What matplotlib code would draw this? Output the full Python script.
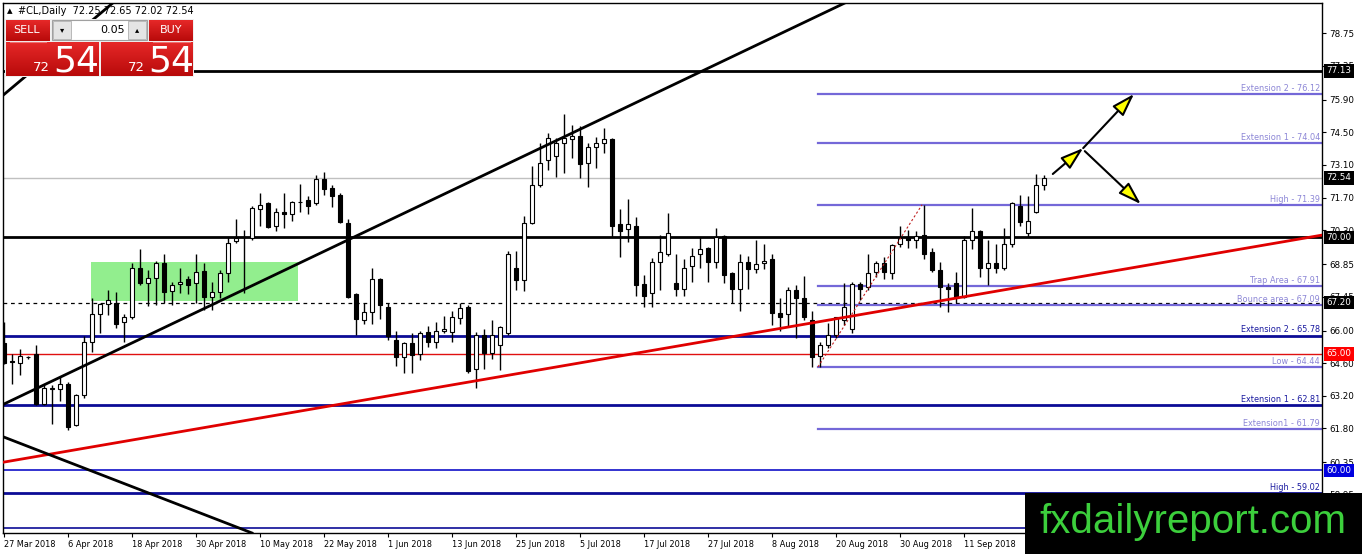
import matplotlib
matplotlib.use("Agg")
import matplotlib.pyplot as plt
import numpy as np
from matplotlib.patches import Rectangle, FancyArrowPatch
from matplotlib.transforms import blended_transform_factory
from matplotlib.colors import LinearSegmentedColormap

# daily bars, #CL (oil), 27 Mar - 25 Sep 2018
opens = [65.45, 64.7, 64.6, 64.85, 65.0, 62.85, 63.5, 63.5, 63.7, 61.95,
         63.25, 65.5, 66.7, 67.15, 67.2, 66.35, 66.6, 68.7, 68.05, 68.25,
         68.9, 67.7, 68.0, 68.2, 68.05, 68.55, 67.45, 67.65, 68.45, 69.83,
         70.0, 69.95, 71.2, 71.45, 70.5, 71.1, 71.0, 71.5, 71.6, 71.45,
         72.5, 72.1, 71.8, 70.6, 67.55, 66.45, 66.8, 68.2, 67.0, 65.6,
         64.85, 65.45, 65.0, 65.95, 65.5, 66.0, 65.95, 66.55, 67.0, 64.35,
         65.8, 65.05, 65.4, 65.9, 68.7, 68.15, 70.6, 72.25, 73.3, 73.5,
         74.05, 74.2, 74.35, 73.2, 73.85, 74.05, 74.2, 70.55, 70.35, 70.5,
         68.0, 67.6, 68.95, 69.3, 68.05, 67.8, 68.75, 69.3, 69.55, 68.95,
         70.05, 68.45, 67.8, 68.95, 68.65, 68.9, 69.05, 66.75, 66.7, 67.75,
         67.4, 66.45, 64.9, 65.4, 65.8, 66.45, 66.05, 68.0, 67.85, 68.5,
         68.9, 68.45, 69.7, 70.0, 69.9, 70.1, 69.35, 68.6, 67.85, 68.05,
         67.45, 69.9, 70.25, 68.7, 68.9, 68.7, 69.7, 71.35, 70.2, 71.1,
         72.25]
highs = [66.35, 65.0, 65.2, 64.9, 65.4, 63.7, 63.65, 64.0, 63.8, 63.3,
         65.75, 67.4, 67.2, 67.75, 67.65, 66.7, 68.9, 69.5, 68.6, 69.0,
         69.3, 68.1, 68.7, 68.35, 69.3, 68.9, 68.1, 68.6, 70.0, 70.8,
         70.3, 71.35, 71.9, 71.5, 71.25, 71.9, 71.55, 72.3, 71.75, 72.65,
         72.8, 72.25, 71.9, 70.8, 67.6, 67.2, 68.7, 68.25, 67.2, 66.0,
         65.5, 65.9, 66.0, 66.2, 66.35, 66.62, 66.85, 67.2, 67.1, 65.95,
         66.05, 66.45, 66.2, 69.4, 69.4, 70.9, 73.05, 74.05, 74.45, 74.25,
         75.3, 74.8, 74.75, 74.05, 74.3, 74.7, 74.25, 71.2, 71.65, 70.85,
         68.4, 69.1, 70.1, 71.05, 69.3, 69.05, 69.55, 70.0, 69.6, 70.4,
         70.1, 68.5, 69.3, 69.2, 69.9, 69.7, 69.3, 67.4, 67.85, 67.95,
         68.35, 66.85, 65.5, 66.32, 66.6, 68.03, 68.07, 68.07, 69.3, 69.0,
         69.15, 69.7, 70.5, 70.3, 70.25, 71.39, 69.55, 68.95, 68.05, 68.5,
         70.05, 71.25, 70.3, 69.9, 69.7, 70.4, 71.5, 71.8, 71.75, 72.7,
         72.65]
lows = [64.55, 63.7, 64.1, 64.8, 62.8, 62.8, 62.0, 63.0, 61.75, 61.9,
        63.1, 65.1, 65.9, 66.65, 66.1, 65.5, 66.5, 67.95, 67.05, 67.1,
        67.2, 67.1, 67.6, 67.55, 67.2, 66.9, 66.9, 67.4, 68.1, 69.75,
        67.6, 69.9, 70.5, 70.4, 70.25, 70.4, 70.7, 71.1, 71.0, 71.4,
        71.8, 71.3, 70.6, 67.4, 65.8, 66.3, 66.3, 66.5, 65.6, 64.5,
        64.2, 64.2, 64.75, 65.3, 65.25, 65.9, 65.5, 66.3, 64.2, 63.55,
        64.35, 64.8, 64.3, 65.8, 67.75, 67.7, 70.55, 72.15, 72.9, 72.6,
        72.75, 73.4, 72.55, 72.15, 72.95, 73.6, 70.0, 69.15, 69.8, 67.5,
        67.0, 67.0, 67.75, 69.2, 67.5, 67.5, 68.1, 68.7, 68.1, 68.7,
        68.05, 67.2, 66.85, 67.8, 68.45, 68.65, 66.25, 66.0, 66.15, 65.7,
        66.45, 64.45, 64.44, 65.25, 65.7, 66.25, 65.9, 67.3, 67.75, 68.3,
        68.2, 68.2, 69.6, 69.55, 69.55, 69.05, 68.5, 67.0, 66.8, 67.2,
        67.4, 69.5, 68.3, 67.95, 68.45, 68.6, 69.6, 70.5, 70.0, 71.05,
        72.02]
closes = [64.6, 64.65, 64.9, 64.88, 62.85, 63.55, 63.55, 63.7, 61.85, 63.25,
          65.5, 66.7, 67.15, 67.3, 66.3, 66.6, 68.7, 68.05, 68.25, 68.9,
          67.65, 67.95, 68.1, 67.95, 68.5, 67.45, 67.65, 68.45, 69.75, 69.96,
          70.02, 71.25, 71.38, 70.45, 71.1, 71.0, 71.5, 71.52, 71.35, 72.5,
          72.05, 71.75, 70.65, 67.45, 66.5, 66.8, 68.2, 67.1, 65.75, 64.85,
          65.45, 64.95, 65.9, 65.5, 66.0, 66.05, 66.6, 66.95, 64.25, 65.8,
          65.05, 65.8, 66.15, 69.3, 68.15, 70.6, 72.25, 73.2, 74.25, 74.05,
          74.25, 74.35, 73.15, 73.85, 74.05, 74.2, 70.5, 70.25, 70.55, 67.95,
          67.5, 68.95, 69.35, 70.2, 67.8, 68.7, 69.2, 69.5, 68.95, 70.0,
          68.4, 67.8, 68.95, 68.65, 68.85, 69.0, 66.75, 66.6, 67.75, 67.4,
          66.6, 64.85, 65.4, 65.8, 66.6, 67.0, 68.0, 67.8, 68.45, 68.9,
          68.5, 69.65, 69.95, 69.9, 70.05, 69.3, 68.6, 67.85, 67.8, 67.45,
          69.9, 70.25, 68.7, 68.9, 68.7, 69.7, 71.45, 70.65, 70.7, 72.25,
          72.54]

date_labels = ["27 Mar 2018", "6 Apr 2018", "18 Apr 2018", "30 Apr 2018",
               "10 May 2018", "22 May 2018", "1 Jun 2018", "13 Jun 2018",
               "25 Jun 2018", "5 Jul 2018", "17 Jul 2018", "27 Jul 2018",
               "8 Aug 2018", "20 Aug 2018", "30 Aug 2018", "11 Sep 2018"]
price_ticks = [78.75, 77.35, 75.90, 74.50, 73.10, 71.70, 70.30, 68.85,
               67.45, 66.00, 64.60, 63.20, 61.80, 60.35, 58.95]

# levels drawn on the chart
fib_levels = [76.12, 74.04, 71.39, 67.91, 67.09, 64.44, 61.79]
fib_names = ["Extension 2 - 76.12", "Extension 1 - 74.04", "High - 71.39",
             "Trap Area - 67.91", "Bounce area - 67.09", "Low - 64.44",
             "Extension1 - 61.79"]
navy_levels = [65.78, 62.81, 59.02, 57.53]
navy_names = ["Extension 2 - 65.78", "Extension 1 - 62.81", "High - 59.02", ""]
black_levels = [77.13, 70.00]
bid = 72.54
dashed_level = 67.20
red_level = 65.00
blue_level = 60.00

# trend lines (bar index, price)
red_trend = ([0, 164.75], [60.36, 70.09])
black_up = ([0, 105.1], [62.85, 80.04])
black_steep = ([-0.1, 13.6], [76.09, 80.04])
black_down = ([0, 31.0], [61.43, 57.32])
fib_swing = ([101.75, 114.75], [64.44, 71.39])
zone_bars = (10.9, 36.75)
zone_prices = (67.26, 68.93)
arrow_up = [(131.1, 72.71), (134.9, 73.82), (141.25, 76.14)]
arrow_down = [(135.1, 73.69), (142.1, 71.42)]

W, H = 1362, 554
fig = plt.figure(figsize=(W / 100, H / 100), dpi=100)
ax = fig.add_axes([3 / W, (H - 533) / H, 1319 / W, 530 / H])
ax.set_xlim(-0.125, 164.75)
ax.set_ylim(57.32, 80.04)

n = len(opens)
x = np.arange(n)
o = np.array(opens); c = np.array(closes)

# green zone
ax.add_patch(Rectangle((zone_bars[0], zone_prices[0]), zone_bars[1] - zone_bars[0],
                       zone_prices[1] - zone_prices[0], color='#92ee8e', zorder=1, lw=0))

# horizontal levels
for lv in black_levels:
    ax.axhline(lv, color='black', lw=2, zorder=2)
ax.axhline(bid, color='#c0c0c0', lw=1, zorder=2)
ax.axhline(dashed_level, color='black', lw=0.9, ls=(0, (3, 3)), zorder=2)
ax.axhline(red_level, color='#e01010', lw=1, zorder=2)
ax.axhline(blue_level, color='#1010c8', lw=1.2, zorder=2)
for lv, nm in zip(navy_levels, navy_names):
    ax.axhline(lv, color='#0c0c96', lw=2 if nm else 1.2, zorder=2)
for lv in fib_levels:
    ax.plot([fib_swing[0][0], 164.75], [lv, lv], color='#7468d8', lw=1.6, zorder=2)

tr = blended_transform_factory(ax.transAxes, ax.transData)
for lv, nm in zip(fib_levels, fib_names):
    ax.text(0.9985, lv + 0.05, nm, transform=tr, ha='right', va='bottom',
            fontsize=5.9, color='#8c86d6', zorder=3)
for lv, nm in zip(navy_levels, navy_names):
    if nm:
        ax.text(0.9985, lv + 0.05, nm, transform=tr, ha='right', va='bottom',
                fontsize=5.9, color='#1a1aa0', zorder=3)

# candles
ax.vlines(x, lows, highs, color='black', lw=1, zorder=3)
body = np.maximum(np.abs(c - o), 0.03)
cols = ['white' if cc >= oo else 'black' for oo, cc in zip(o, c)]
ax.bar(x, body, bottom=np.minimum(o, c), width=0.62, color=cols,
       edgecolor='black', lw=0.8, zorder=3)

# trend lines
ax.plot(*red_trend, color='#e00000', lw=2, zorder=4)
ax.plot(*black_up, color='black', lw=2, zorder=4)
ax.plot(*black_steep, color='black', lw=2, zorder=4)
ax.plot(*black_down, color='black', lw=2, zorder=4)
ax.plot(*fib_swing, color='#c02020', lw=0.8, ls=(0, (2, 2)), zorder=4)

# arrows
def head_arrow(p0, p1):
    ax.add_patch(FancyArrowPatch(p0, p1, arrowstyle='-|>,head_length=1.4,head_width=0.45',
                                 mutation_scale=10, facecolor='#ffff00', edgecolor='black',
                                 lw=1.5, zorder=5, shrinkA=0, shrinkB=0))
head_arrow(arrow_up[0], arrow_up[1])
head_arrow(arrow_up[1], arrow_up[2])
head_arrow(arrow_down[0], arrow_down[1])

# axes styling
for s in ax.spines.values():
    s.set_color('black'); s.set_linewidth(1)
ax.yaxis.tick_right()
ax.set_yticks(price_ticks)
ax.set_yticklabels(['%.2f' % t for t in price_ticks])
ax.set_xticks(np.arange(0, 8 * len(date_labels), 8))
ax.set_xticklabels(date_labels)
ax.tick_params(axis='y', labelsize=6.3, length=3, width=0.8, color='black', pad=2)
ax.tick_params(axis='x', labelsize=5.9, length=3, width=0.8, color='black', pad=2)
for lab in ax.get_xticklabels():
    lab.set_ha('left')

# price boxes on the scale
for lv, fc in [(77.13, 'black'), (bid, 'black'), (70.00, 'black'),
               (dashed_level, 'black'), (red_level, '#ff0000'), (blue_level, '#0000e0')]:
    ax.text(1.0035, lv, '%.2f' % lv, transform=tr, ha='left', va='center', fontsize=6.3,
            color='white', zorder=6, clip_on=False,
            bbox=dict(boxstyle='square,pad=0.25', fc=fc, ec='none'))

# overlay: trade panel, header, logo
ov = fig.add_axes([0, 0, 1, 1], zorder=5)
ov.set_xlim(0, W); ov.set_ylim(H, 0); ov.axis('off')
reds = LinearSegmentedColormap.from_list('reds', ['#e62828', '#b80a0a'])
grad = np.linspace(0, 1, 50).reshape(-1, 1)

def red_box(x0, y0, w, h):
    ov.imshow(grad, extent=(x0, x0 + w, y0 + h, y0), cmap=reds, aspect='auto', zorder=1)

ov.text(7, 11, u'\u25b4', fontsize=8, va='center')
ov.text(18, 11, '#CL,Daily  72.25 72.65 72.02 72.54', fontsize=7, va='center')
ov.add_patch(Rectangle((5, 19), 189, 58, fc='#f0f0f0', ec='none', zorder=0))
red_box(6, 20, 44, 21)
red_box(149, 20, 44, 21)
red_box(6, 42, 93, 34)
red_box(101, 42, 92, 34)
ov.plot([10, 46], [41.5, 41.5], color='#f07070', lw=0.8, zorder=2)
ov.plot([153, 190], [41.5, 41.5], color='#f07070', lw=0.8, zorder=2)
ov.add_patch(Rectangle((52, 20), 95, 20, fc='white', ec='#a0a0a0', lw=0.8, zorder=1))
ov.add_patch(Rectangle((53, 21), 18, 18, fc='#e4e4e4', ec='#b0b0b0', lw=0.6, zorder=2))
ov.add_patch(Rectangle((128, 21), 18, 18, fc='#e4e4e4', ec='#b0b0b0', lw=0.6, zorder=2))
ov.text(62, 30, u'\u25be', fontsize=6, ha='center', va='center', zorder=3)
ov.text(137, 30, u'\u25b4', fontsize=6, ha='center', va='center', zorder=3)
ov.text(125, 30, '0.05', fontsize=8, ha='right', va='center', zorder=3)
ov.text(27, 30, 'SELL', fontsize=8, color='white', ha='center', va='center', zorder=3)
ov.text(171, 30, 'BUY', fontsize=8, color='white', ha='center', va='center', zorder=3)
for bx in (6, 101):
    ov.text(bx + 44, 71, '72', fontsize=9.5, color='white', ha='right', va='baseline', zorder=3)
    ov.text(bx + 47, 72, '54', fontsize=26, color='white', ha='left', va='baseline', zorder=3)

ov.add_patch(Rectangle((1025, 493), 337, 61, fc='black', ec='none', zorder=1))
ov.text(1193, 522, 'fxdailyreport.com', fontsize=29, color='#3ccf3c', ha='center',
        va='center', family='Liberation Sans', zorder=2)

fig.savefig('out.png', dpi=100, facecolor='white')
